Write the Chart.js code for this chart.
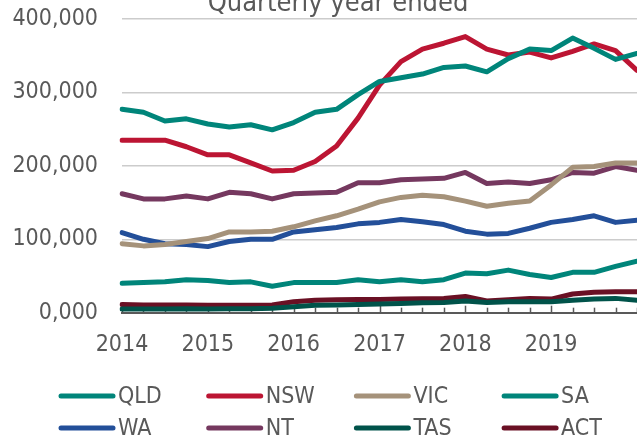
<!DOCTYPE html>
<html>
<head>
<meta charset="utf-8">
<script src="https://cdn.jsdelivr.net/npm/chart.js@4"></script>
<style>
  html, body { margin: 0; padding: 0; background: #ffffff; }
  #wrap { position: relative; width: 637px; height: 442px; }
</style>
</head>
<body>
<div id="wrap"><canvas id="c"></canvas></div>
<script>
// ---- data ----
const quarters = ['Q1 2014','Q2 2014','Q3 2014','Q4 2014','Q1 2015','Q2 2015','Q3 2015','Q4 2015',
  'Q1 2016','Q2 2016','Q3 2016','Q4 2016','Q1 2017','Q2 2017','Q3 2017','Q4 2017',
  'Q1 2018','Q2 2018','Q3 2018','Q4 2018','Q1 2019','Q2 2019','Q3 2019','Q4 2019','Q1 2020'];
const xTickLabels = ['2014','','','','2015','','','','2016','','','','2017','','','','2018','','','','2019','','','',''];
const yTickValues = [0, 100000, 200000, 300000, 400000];
const chartTitle = 'Quarterly year ended';

const QLD = [277000,273000,261000,264000,257000,253000,256000,249000,259000,273000,277000,297000,315000,320000,325000,334000,336000,328000,346000,359000,357000,374000,360000,345000,353000];
const NSW = [235000,235000,235000,226000,215000,215000,204000,193000,194000,206000,227000,265000,310000,342000,359000,367000,376000,359000,351000,355000,347000,356000,366000,357000,330000];
const VIC = [94000,91000,93000,97000,101000,110000,110000,111000,117000,125000,132000,141000,151000,157000,160000,158000,152000,145000,149000,152000,174000,198000,199000,204000,204000];
const SA  = [40000,41000,42000,45000,44000,41000,42000,36000,41000,41000,41000,45000,42000,45000,42000,45000,54000,53000,58000,52000,48000,55000,55000,63000,70000];
const WA  = [109000,100000,94000,93000,90000,97000,100000,100000,110000,113000,116000,121000,123000,127000,124000,120000,111000,107000,108000,115000,123000,127000,132000,123000,126000];
const NT  = [162000,155000,155000,159000,155000,164000,162000,155000,162000,163000,164000,177000,177000,181000,182000,183000,191000,176000,178000,176000,181000,191000,190000,199000,194000];
const TAS = [5000,5000,5000,5500,5000,5500,5500,6000,8000,10000,10500,11000,12000,12500,13500,14000,16000,14000,15000,15000,15000,17000,18500,19500,17000];
const ACT = [11000,10500,10500,10500,10000,10000,10000,10500,15000,17000,17500,18000,18000,18500,19000,19500,22000,16000,17700,19500,18500,25500,27700,28500,28500];

const seriesNames = ['QLD','NSW','VIC','SA','WA','NT','TAS','ACT'];
const seriesData = [QLD, NSW, VIC, SA, WA, NT, TAS, ACT];
const seriesColors = ['#00857A','#BC1533','#A5927A','#00857A','#234F99','#75385F','#00534A','#6A1024'];

const FONT = '"DejaVu Sans Condensed", "DejaVu Sans", sans-serif';
const TEXT = '#595959';

const datasets = seriesNames.map((n, i) => ({
  label: n,
  data: seriesData[i],
  borderColor: seriesColors[i],
  backgroundColor: seriesColors[i],
  borderWidth: 5,
  pointRadius: 0,
  pointHoverRadius: 0,
  tension: 0,
  fill: false,
  borderCapStyle: 'round',
  borderJoinStyle: 'round'
}));

const extras = {
  id: 'extras',
  beforeDatasetsDraw(chart) {
    const ctx = chart.ctx;
    const xs = chart.scales.x;
    const yb = chart.chartArea.bottom;
    ctx.save();
    ctx.strokeStyle = '#595959';
    ctx.lineWidth = 1.5;
    for (let i = 0; i < quarters.length; i++) {
      const x = Math.round(xs.getPixelForValue(i)) + 0.5;
      const len = xTickLabels[i] ? 7 : 5;
      ctx.beginPath();
      ctx.moveTo(x, yb);
      ctx.lineTo(x, yb - len);
      ctx.stroke();
    }
    ctx.restore();
  },
  afterDraw(chart) {
    const ctx = chart.ctx;
    ctx.save();
    // title (clipped at top like the reference)
    ctx.fillStyle = TEXT;
    ctx.font = '27px ' + FONT;
    ctx.textAlign = 'center';
    ctx.textBaseline = 'alphabetic';
    ctx.fillText(chartTitle, 338, 11);
    // legend
    ctx.font = '23px ' + FONT;
    ctx.textAlign = 'left';
    ctx.textBaseline = 'middle';
    chart.data.datasets.forEach((ds, i) => {
      const col = i % 4, row = Math.floor(i / 4);
      const x0 = 59 + col * 147.7;
      const y = 396 + row * 32;
      ctx.strokeStyle = ds.borderColor;
      ctx.lineWidth = 5;
      ctx.lineCap = 'round';
      ctx.beginPath();
      ctx.moveTo(x0 + 2, y);
      ctx.lineTo(x0 + 54, y);
      ctx.stroke();
      ctx.fillStyle = TEXT;
      ctx.fillText(ds.label, x0 + 59, y + 1);
    });
    ctx.restore();
  }
};

new Chart(document.getElementById('c'), {
  type: 'line',
  data: { labels: quarters, datasets },
  options: {
    responsive: true,
    maintainAspectRatio: false,
    animation: false,
    events: [],
    layout: { padding: { top: 19, right: 0, left: 0, bottom: 0 } },
    plugins: {
      legend: { display: false },
      title: { display: false },
      tooltip: { enabled: false }
    },
    scales: {
      x: {
        type: 'category',
        offset: false,
        grid: { display: false, drawTicks: false },
        border: { display: true, color: '#595959', width: 2 },
        ticks: {
          autoSkip: false,
          maxRotation: 0,
          minRotation: 0,
          padding: 19,
          color: TEXT,
          font: { family: FONT, size: 23 },
          callback: (v, i) => xTickLabels[i]
        },
        afterFit(s) { s.height = 129.3; s.paddingLeft = 0; s.paddingRight = 0; }
      },
      y: {
        min: 0,
        max: 400000,
        afterBuildTicks(s) { s.ticks = yTickValues.map(v => ({ value: v })); },
        grid: { color: '#CCCCCC', lineWidth: 1.5, drawTicks: false },
        border: { display: false },
        ticks: {
          padding: 24,
          color: TEXT,
          font: { family: FONT, size: 23 },
          callback: v => v === 0 ? '0,000' : Number(v).toLocaleString('en-US')
        },
        afterFit(s) { s.width = 122; s.paddingTop = 0; s.paddingBottom = 0; }
      }
    }
  },
  plugins: [extras]
});
</script>
</body>
</html>
